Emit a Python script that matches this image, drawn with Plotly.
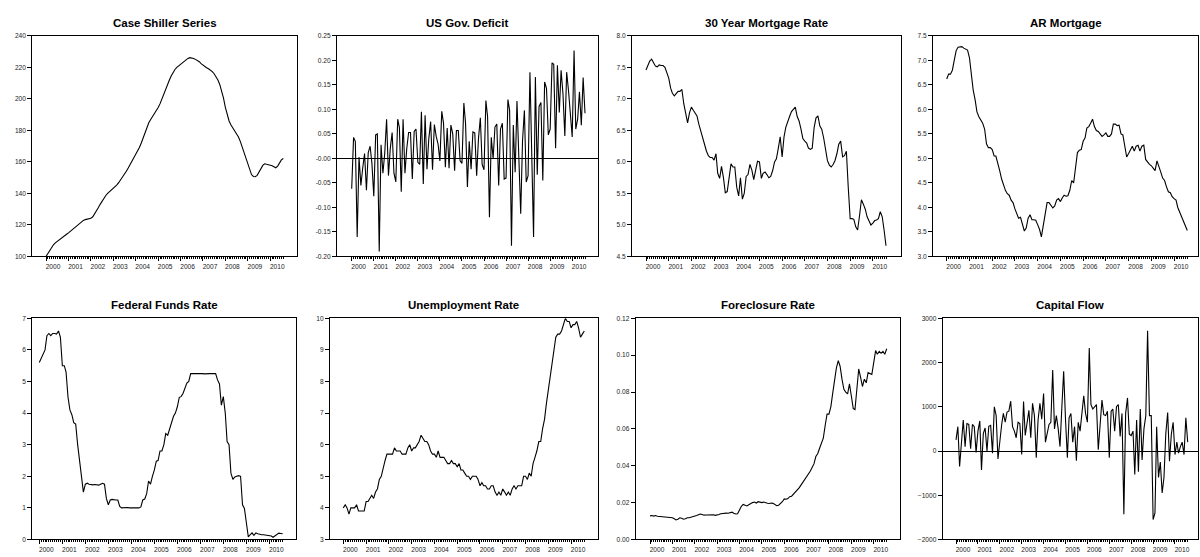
import pandas as pd
import plotly.graph_objects as go

# --- data (monthly, 2000M01 - 2010M08) ---

dates = pd.date_range("2000-01-01", periods=128, freq="MS")
year_ticks = pd.date_range("2000-01-01", "2010-01-01", freq="YS")
year_labels = [str(d.year) for d in year_ticks]

titles = [
    "Case Shiller Series", "US Gov. Deficit", "30 Year Mortgage Rate", "AR Mortgage",
    "Federal Funds Rate", "Unemployment Rate", "Foreclosure Rate", "Capital Flow",
]

case_shiller = [
    100.0, 101.9, 103.9, 105.8, 107.4, 108.6, 109.6, 110.5, 111.3, 112.2, 113.1, 114.1,
    115.0, 116.0, 117.1, 118.2, 119.3, 120.3, 121.3, 122.2, 122.9, 123.4, 123.6, 123.8,
    124.2, 125.2, 126.8, 128.7, 130.9, 133.1, 135.2, 137.0, 138.7, 140.1, 141.2, 142.1,
    143.0, 144.1, 145.5, 147.0, 148.6, 150.3, 152.1, 154.1, 156.1, 158.2, 160.4, 162.5,
    164.7, 166.8, 169.2, 172.0, 175.5, 179.2, 182.4, 184.9, 186.9, 188.6, 190.3, 192.3,
    194.5, 197.0, 200.0, 203.0, 206.0, 209.0, 211.8, 214.5, 216.8, 218.7, 220.0, 221.0,
    222.0, 222.8, 223.7, 224.8, 225.7, 226.2, 226.1, 225.7, 225.1, 224.5, 223.6, 222.4,
    221.3, 220.5, 219.8, 219.1, 218.3, 217.3, 216.0, 214.3, 212.0, 209.2, 205.5, 200.5,
    194.5, 189.5, 186.0, 183.5, 181.5, 179.8, 178.0, 175.8, 172.9, 169.4, 165.5, 161.5,
    157.6, 154.3, 152.0, 150.8, 150.6, 151.5, 153.5, 155.8, 157.8, 158.8, 158.6, 158.3,
    158.0, 157.6, 157.0, 156.3, 157.4, 159.3, 161.3, 162.2,
]

gov_deficit = [
    -0.062, 0.043, 0.035, -0.160, 0.003, -0.055, -0.020, 0.010, -0.065, 0.012,
    0.025, -0.010, -0.077, 0.048, 0.050, -0.190, 0.028, -0.030, 0.010, 0.080,
    -0.035, 0.020, 0.053, -0.030, -0.048, 0.080, 0.063, -0.068, 0.080, -0.030,
    0.020, 0.053, 0.053, -0.042, 0.055, 0.060, -0.008, -0.012, 0.095, -0.052,
    0.088, -0.022, 0.040, 0.075, -0.023, 0.069, 0.045, 0.030, -0.005, 0.096,
    0.072, -0.018, 0.062, -0.020, 0.068, 0.050, -0.025, 0.057, 0.057, -0.005,
    -0.010, 0.113, 0.072, -0.058, 0.035, -0.022, 0.054, 0.052, -0.035, 0.040,
    0.083, -0.012, -0.023, 0.118, 0.085, -0.120, 0.043, 0.000, 0.064, 0.070,
    -0.055, 0.060, 0.072, -0.042, -0.040, 0.120, 0.098, -0.178, 0.068, -0.028,
    0.117, 0.010, -0.113, 0.036, 0.098, -0.048, -0.035, 0.176, 0.005, -0.160,
    0.166, -0.033, 0.106, 0.114, -0.045, 0.156, 0.143, 0.048, 0.060, 0.195,
    0.192, 0.021, 0.190, 0.094, 0.180, 0.132, 0.046, 0.176, 0.138, 0.088,
    0.044, 0.220, 0.060, 0.080, 0.136, 0.068, 0.165, 0.092,
]

mortgage_30y = [
    7.46, 7.55, 7.60, 7.63, 7.58, 7.52, 7.51, 7.54, 7.53, 7.53, 7.50, 7.43,
    7.33, 7.17, 7.09, 7.05, 7.08, 7.12, 7.12, 7.15, 6.92, 6.78, 6.62, 6.78,
    6.87, 6.82, 6.77, 6.73, 6.60, 6.48, 6.38, 6.27, 6.17, 6.10, 6.07, 6.07,
    6.03, 6.13, 5.82, 5.74, 5.93, 5.75, 5.51, 5.53, 5.75, 5.97, 5.92, 5.92,
    5.60, 5.46, 5.75, 5.41, 5.50, 5.77, 5.80, 5.96, 5.87, 5.72, 5.87, 6.01,
    6.00, 5.74, 5.82, 5.84, 5.80, 5.75, 5.77, 5.86, 6.00, 6.05, 6.22, 6.40,
    6.08, 6.40, 6.55, 6.65, 6.72, 6.80, 6.83, 6.87, 6.72, 6.65, 6.52, 6.37,
    6.33, 6.30, 6.22, 6.20, 6.22, 6.55, 6.70, 6.73, 6.57, 6.52, 6.38, 6.20,
    6.02, 5.95, 5.92, 5.96, 6.02, 6.13, 6.28, 6.33, 6.08, 6.10, 6.17, 5.60,
    5.10, 5.10, 5.09, 4.97, 4.92, 5.15, 5.40, 5.33, 5.25, 5.13, 5.07, 5.00,
    5.03, 5.07, 5.08, 5.10, 5.21, 5.13, 4.92, 4.67,
]

ar_mortgage = [
    6.62, 6.72, 6.72, 6.80, 7.00, 7.20, 7.27, 7.28, 7.28, 7.25, 7.22, 7.21,
    7.05, 6.65, 6.40, 6.20, 5.95, 5.85, 5.78, 5.72, 5.60, 5.30, 5.22, 5.22,
    5.18, 5.05, 5.05, 4.92, 4.75, 4.58, 4.45, 4.35, 4.28, 4.25, 4.15, 4.10,
    3.97, 3.85, 3.78, 3.80, 3.65, 3.52, 3.58, 3.78, 3.85, 3.75, 3.75, 3.74,
    3.65, 3.55, 3.40, 3.62, 3.85, 4.10, 4.10, 4.05, 3.99, 4.03, 4.15, 4.18,
    4.12, 4.20, 4.25, 4.23, 4.24, 4.35, 4.55, 4.50, 4.80, 5.12, 5.17, 5.18,
    5.35, 5.42, 5.62, 5.65, 5.72, 5.80, 5.65, 5.57, 5.55, 5.50, 5.45, 5.48,
    5.52, 5.45, 5.45, 5.50, 5.70, 5.70, 5.67, 5.68, 5.50, 5.48, 5.25, 5.03,
    5.10, 5.18, 5.25, 5.15, 5.25, 5.27, 5.15, 5.25, 5.27, 4.98, 4.92, 4.88,
    4.85, 4.80, 4.75, 4.95, 4.85, 4.72, 4.60, 4.55, 4.42, 4.32, 4.30, 4.22,
    4.18, 4.15, 4.00, 3.90, 3.80, 3.70, 3.60, 3.53,
]

fed_funds = [
    5.60, 5.75, 5.88, 6.00, 6.45, 6.52, 6.45, 6.52, 6.52, 6.50, 6.60, 6.40,
    5.50, 5.50, 5.30, 4.50, 4.10, 3.95, 3.70, 3.65, 3.00, 2.45, 2.10, 1.50,
    1.75, 1.78, 1.75, 1.73, 1.73, 1.74, 1.73, 1.72, 1.75, 1.78, 1.75, 1.30,
    1.10, 1.25, 1.27, 1.25, 1.25, 1.25, 1.05, 1.00, 1.01, 1.00, 1.01, 1.00,
    1.00, 1.00, 1.00, 1.00, 1.00, 1.03, 1.25, 1.28, 1.45, 1.85, 1.75, 2.00,
    2.20, 2.48, 2.50, 2.80, 2.80, 3.00, 3.35, 3.30, 3.50, 3.62, 3.90, 4.00,
    4.20, 4.50, 4.52, 4.62, 4.82, 4.95, 5.00, 5.25, 5.25, 5.24, 5.25, 5.25,
    5.26, 5.25, 5.24, 5.25, 5.24, 5.25, 5.25, 5.25, 5.25, 5.05, 4.92, 4.25,
    4.52, 4.00, 3.10, 3.00, 2.10, 1.90, 1.98, 2.00, 2.02, 2.00, 1.10, 0.98,
    0.45, 0.08, 0.15, 0.21, 0.13, 0.21, 0.18, 0.16, 0.15, 0.15, 0.14, 0.13,
    0.12, 0.11, 0.07, 0.11, 0.15, 0.20, 0.19, 0.18,
]

unemployment = [
    4.0, 4.1, 4.0, 3.8, 4.0, 4.0, 4.0, 4.1, 3.9, 3.9, 3.9, 3.9,
    4.2, 4.2, 4.3, 4.4, 4.3, 4.5, 4.6, 4.9, 5.0, 5.3, 5.5, 5.7,
    5.7, 5.7, 5.7, 5.9, 5.8, 5.8, 5.8, 5.7, 5.7, 5.7, 5.9, 6.0,
    5.8, 5.9, 5.9, 6.0, 6.1, 6.3, 6.2, 6.1, 6.1, 6.0, 5.8, 5.7,
    5.7, 5.6, 5.8, 5.6, 5.6, 5.6, 5.5, 5.4, 5.4, 5.5, 5.4, 5.4,
    5.3, 5.4, 5.2, 5.2, 5.1, 5.0, 5.0, 4.9, 5.0, 5.0, 5.0, 4.9,
    4.7, 4.8, 4.7, 4.7, 4.6, 4.6, 4.7, 4.7, 4.5, 4.4, 4.5, 4.4,
    4.6, 4.5, 4.4, 4.5, 4.4, 4.6, 4.7, 4.6, 4.7, 4.7, 4.7, 5.0,
    5.0, 4.9, 5.1, 5.0, 5.4, 5.6, 5.8, 6.1, 6.1, 6.5, 6.8, 7.3,
    7.7, 8.2, 8.6, 8.9, 9.4, 9.5, 9.5, 9.6, 9.8, 10.0, 9.9, 9.9,
    9.7, 9.8, 9.8, 9.9, 9.7, 9.4, 9.5, 9.6,
]

foreclosure = [
    0.0128, 0.0130, 0.0127, 0.0130, 0.0126, 0.0125, 0.0124, 0.0123, 0.0122, 0.0120, 0.0122, 0.0119,
    0.0118, 0.0112, 0.0106, 0.0110, 0.0118, 0.0115, 0.0110, 0.0112, 0.0118, 0.0118, 0.0120, 0.0125,
    0.0128, 0.0130, 0.0134, 0.0138, 0.0136, 0.0132, 0.0133, 0.0134, 0.0132, 0.0135, 0.0134, 0.0131,
    0.0132, 0.0136, 0.0140, 0.0142, 0.0143, 0.0143, 0.0142, 0.0145, 0.0148, 0.0142, 0.0138, 0.0140,
    0.0165, 0.0180, 0.0190, 0.0188, 0.0182, 0.0188, 0.0195, 0.0200, 0.0203, 0.0198, 0.0205, 0.0202,
    0.0200, 0.0203, 0.0198, 0.0197, 0.0195, 0.0198, 0.0196, 0.0190, 0.0183, 0.0186, 0.0195, 0.0205,
    0.0220, 0.0218, 0.0222, 0.0232, 0.0235, 0.0245, 0.0255, 0.0265, 0.0280, 0.0295, 0.0310, 0.0325,
    0.0335, 0.0350, 0.0370, 0.0390, 0.0410, 0.0450, 0.0465, 0.0495, 0.0520, 0.0550, 0.0620, 0.0680,
    0.0680, 0.0720, 0.0790, 0.0860, 0.0930, 0.0970, 0.0940, 0.0870, 0.0815, 0.0800, 0.0790, 0.0845,
    0.0780, 0.0710, 0.0705, 0.0830, 0.0925, 0.0880, 0.0830, 0.0870, 0.0850, 0.0905, 0.0900, 0.0895,
    0.0960, 0.1025, 0.1005, 0.1020, 0.1010, 0.1020, 0.1005, 0.1035,
]

capital_flow = [
    250, 550, -350, 100, 700, 100, 620, 600, 50, 600, 550, -30,
    450, 680, -430, 400, 520, 0, 560, 580, -50, 1000, 800, -180,
    300, 600, 850, 650, 880, 900, 1130, 550, 450, 300, 650, 620,
    -80, 1120, 350, 700, 920, 300, 1080, 800, -150, 700, 1080, 720,
    1300, 200, 400, 600, 650, 1830, 500, 800, 500, 100, 1000, 1800,
    700, -150, 750, 850, 200, 550, -220, 650, 450, 800, 1250, 850,
    650, 2330, 1050, 950, 1000, 1050, 30, 700, 1150, 820, 800, 900,
    -150, 900, 950, 450, 1000, 1050, 330, 850, -1430, 850, 1200, 380,
    350, 450, -530, 700, -470, 950, -200, 500, 800, 2720, 800, 800,
    -1550, -1400, 550, -600, -250, -950, -600, 400, 870, -230, 380, 650,
    -80, 200, -50, 100, 200, -80, 750, 200,
]

series = [case_shiller, gov_deficit, mortgage_30y, ar_mortgage,
          fed_funds, unemployment, foreclosure, capital_flow]

# y tick labels (EViews style, note the "-0.00")
y_ticks = [
    ([100, 120, 140, 160, 180, 200, 220, 240], None),
    ([-0.20, -0.15, -0.10, -0.05, 0.0, 0.05, 0.10, 0.15, 0.20, 0.25],
     ["-0.20", "-0.15", "-0.10", "-0.05", "-0.00", "0.05", "0.10", "0.15", "0.20", "0.25"]),
    ([4.5, 5.0, 5.5, 6.0, 6.5, 7.0, 7.5, 8.0], ["4.5", "5.0", "5.5", "6.0", "6.5", "7.0", "7.5", "8.0"]),
    ([3.0, 3.5, 4.0, 4.5, 5.0, 5.5, 6.0, 6.5, 7.0, 7.5],
     ["3.0", "3.5", "4.0", "4.5", "5.0", "5.5", "6.0", "6.5", "7.0", "7.5"]),
    ([0, 1, 2, 3, 4, 5, 6, 7], None),
    ([3, 4, 5, 6, 7, 8, 9, 10], None),
    ([0.0, 0.02, 0.04, 0.06, 0.08, 0.10, 0.12], ["0.00", "0.02", "0.04", "0.06", "0.08", "0.10", "0.12"]),
    ([-2000, -1000, 0, 1000, 2000, 3000], None),
]
zero_line = [False, True, False, False, False, False, False, True]

# --- layout geometry (pixels): frame left/right/top/bottom, x of first/last observation ---
W, H = 1200, 557
frames = [
    (32.3, 297.0, 32.3, 255.7, 46.0, 283.3),
    (337.0, 597.5, 32.3, 255.7, 351.7, 585.0),
    (632.0, 901.0, 32.3, 255.7, 646.0, 886.0),
    (933.0, 1198.0, 32.3, 255.7, 946.7, 1187.3),
    (32.3, 296.0, 318.3, 542.3, 39.3, 282.7),
    (330.0, 597.5, 318.3, 542.3, 343.3, 584.3),
    (635.7, 900.0, 318.3, 542.3, 650.0, 886.7),
    (942.7, 1198.0, 318.3, 542.3, 956.0, 1187.7),
]

FONT = "Liberation Sans, Arial, sans-serif"
tick_font = {"family": FONT, "size": 6.6, "color": "#222222"}

fig = go.Figure()
span_days = (dates[-1] - dates[0]).days

for i, (title, y, (tv, tt), zl, fr) in enumerate(zip(titles, series, y_ticks, zero_line, frames), start=1):
    left, right, top, bottom, first_px, last_px = fr
    px_per_day = (last_px - first_px) / span_days
    x0 = dates[0] - pd.Timedelta(days=(first_px - left) / px_per_day)
    x1 = dates[-1] + pd.Timedelta(days=(right - last_px) / px_per_day)
    sfx = "" if i == 1 else str(i)

    fig.add_trace(go.Scatter(
        x=dates, y=y, mode="lines",
        line={"color": "black", "width": 1.1},
        xaxis="x" + sfx, yaxis="y" + sfx, showlegend=False,
    ))

    fig.layout["xaxis" + sfx] = dict(
        domain=[left / W, right / W], anchor="y" + sfx, type="date",
        range=[x0, x1], showgrid=False, zeroline=False,
        showline=True, mirror=True, linecolor="black", linewidth=1,
        tickmode="array", tickvals=year_ticks, ticktext=year_labels,
        ticks="outside", ticklen=4, tickwidth=1, tickcolor="black",
        ticklabelshift=7, tickfont=tick_font, tickangle=0,
        minor=dict(tickmode="array", tickvals=list(dates), ticks="outside",
                   ticklen=2, tickwidth=1, tickcolor="black", showgrid=False),
    )
    yax = dict(
        domain=[1 - bottom / H, 1 - top / H], anchor="x" + sfx,
        range=[tv[0], tv[-1]], showgrid=False,
        zeroline=zl, zerolinecolor="black", zerolinewidth=1,
        showline=True, mirror=True, linecolor="black", linewidth=1,
        tickmode="array", tickvals=tv,
        ticks="outside", ticklen=4, tickwidth=1, tickcolor="black",
        tickfont=tick_font,
    )
    if tt is not None:
        yax["ticktext"] = tt
    fig.layout["yaxis" + sfx] = yax

    fig.add_annotation(
        text="<b>%s</b>" % title, xref="paper", yref="paper",
        x=(left + right) / 2 / W, y=1 - (top - 13) / H,
        xanchor="center", yanchor="middle", showarrow=False,
        font={"family": FONT, "size": 11.5, "color": "black"},
    )

fig.update_layout(
    width=W, height=H,
    margin={"l": 0, "r": 0, "t": 0, "b": 0},
    paper_bgcolor="white", plot_bgcolor="white",
    showlegend=False,
)

# the page must not add its own margin around the fixed-size figure
fig.write_html(
    "out.html",
    config={"displayModeBar": False},
    post_script="document.body.style.margin='0';document.body.style.overflow='hidden';",
)
